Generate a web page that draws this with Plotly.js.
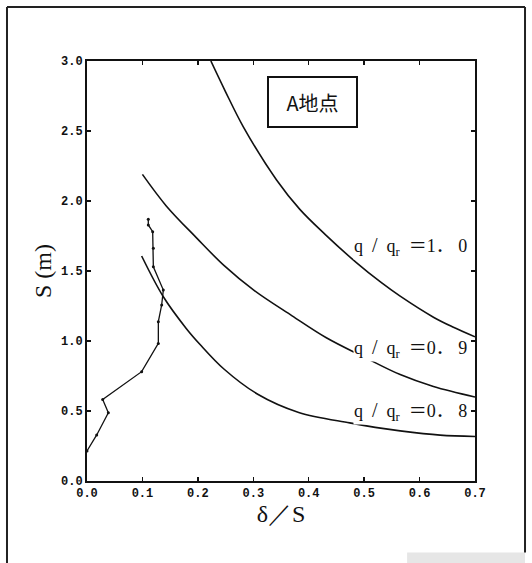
<!DOCTYPE html>
<html>
<head>
<meta charset="utf-8">
<script src="https://cdn.plot.ly/plotly-3.0.1.min.js"></script>
<style>html,body{margin:0;padding:0;background:#fff;}#chart{width:532px;height:563px;}</style>
</head>
<body>
<div id="chart"></div>
<script>
// q/qr = 1.0 curve
const c10_x = [0.2235, 0.25, 0.282, 0.342, 0.384, 0.43, 0.486, 0.53, 0.565, 0.625, 0.66, 0.70];
const c10_y = [3.00, 2.78, 2.53, 2.15, 1.94, 1.76, 1.56, 1.42, 1.32, 1.17, 1.10, 1.03];
// q/qr = 0.9 curve
const c09_x = [0.10, 0.143, 0.198, 0.247, 0.302, 0.37, 0.431, 0.50, 0.565, 0.625, 0.70];
const c09_y = [2.19, 1.965, 1.735, 1.54, 1.36, 1.18, 1.025, 0.885, 0.76, 0.675, 0.60];
// q/qr = 0.8 curve
const c08_x = [0.0986, 0.1377, 0.179, 0.204, 0.247, 0.308, 0.382, 0.474, 0.52, 0.565, 0.637, 0.70];
const c08_y = [1.607, 1.316, 1.09, 0.975, 0.80, 0.62, 0.49, 0.415, 0.383, 0.358, 0.328, 0.318];
// measured profile
const obs_x = [0.1106, 0.1106, 0.1185, 0.1197, 0.1197, 0.1377, 0.1347, 0.1287, 0.1287, 0.0986, 0.0283, 0.0385, 0.0175, 0.0];
const obs_y = [1.869, 1.829, 1.781, 1.662, 1.53, 1.364, 1.257, 1.138, 0.983, 0.781, 0.583, 0.488, 0.329, 0.215];

const xTicks = [0, 0.1, 0.2, 0.3, 0.4, 0.5, 0.6, 0.7];
const yTicks = [0, 0.5, 1.0, 1.5, 2.0, 2.5, 3.0];
const NB = '\u00a0';
const curveValues = ['1．' + NB + '0', '0．' + NB + '9', '0．' + NB + '8'];
const curveLabels = curveValues.map(v => 'q' + NB + NB + '<span style="font-size:20px">/</span>' + NB + NB + 'q<sub>r</sub>' + NB + NB + '＝' + v);
const curveLabelY = [1.674, 0.948, 0.495];
const siteLabel = "A地点";

const lineStyle = {color: '#111', width: 1.6};
const traces = [
  {x: c10_x, y: c10_y, mode: 'lines', line: Object.assign({shape: 'spline', smoothing: 1}, lineStyle), hoverinfo: 'skip'},
  {x: c09_x, y: c09_y, mode: 'lines', line: Object.assign({shape: 'spline', smoothing: 1}, lineStyle), hoverinfo: 'skip'},
  {x: c08_x, y: c08_y, mode: 'lines', line: Object.assign({shape: 'spline', smoothing: 1}, lineStyle), hoverinfo: 'skip'},
  {x: obs_x, y: obs_y, mode: 'lines+markers', line: {color: '#111', width: 1.3}, marker: {size: 3, color: '#111'}, hoverinfo: 'skip'}
];

const annotations = curveLabels.map((t, i) => ({
  x: 0.6874, y: curveLabelY[i], xref: 'x', yref: 'y', xanchor: 'right', yanchor: 'middle',
  text: t, showarrow: false, bgcolor: '#fff', borderpad: 0,
  font: {family: 'Liberation Serif, Noto Sans CJK JP, serif', size: 18, color: '#111'}
}));
annotations.push({
  x: 0.4068, y: 2.707, xref: 'x', yref: 'y', xanchor: 'center', yanchor: 'middle',
  text: siteLabel, showarrow: false, bgcolor: '#fff', bordercolor: '#111', borderwidth: 2,
  borderpad: 1, width: 85, height: 46,
  font: {family: 'Noto Sans CJK JP, sans-serif', size: 20, color: '#111'}
});

const axisCommon = {
  showgrid: false, zeroline: false, showline: true, linecolor: '#111', linewidth: 2,
  mirror: 'ticks', ticks: 'inside', ticklen: 4, tickcolor: '#111', tickwidth: 1.5,
  tickformat: '.1f', fixedrange: true,
  tickfont: {family: 'Liberation Mono, DejaVu Sans Mono, monospace', size: 12, color: '#111', weight: 'bold'}
};

const layout = {
  width: 532, height: 563,
  margin: {l: 87, r: 57, t: 61, b: 82},
  paper_bgcolor: '#fff', plot_bgcolor: '#fff',
  showlegend: false,
  xaxis: Object.assign({}, axisCommon, {
    range: [0, 0.7], tickvals: xTicks,
    title: {text: 'δ／S', standoff: 1, font: {family: 'Liberation Serif, serif', size: 24, color: '#111'}}
  }),
  yaxis: Object.assign({}, axisCommon, {
    range: [0, 3.0], tickvals: yTicks,
    title: {text: 'S (m)', standoff: 3, font: {family: 'Liberation Serif, serif', size: 24, color: '#111'}}
  }),
  annotations: annotations,
  shapes: [
    {type: 'line', xref: 'paper', yref: 'paper', x0: -0.2062, x1: -0.2062, y0: 1.1286, y1: -0.20, line: {color: '#222', width: 2}},
    {type: 'line', xref: 'paper', yref: 'paper', x0: -0.2062, x1: 1.1289, y0: 1.1286, y1: 1.1286, line: {color: '#222', width: 2}},
    {type: 'line', xref: 'paper', yref: 'paper', x0: 1.1289, x1: 1.1289, y0: 1.1286, y1: -0.17, line: {color: '#222', width: 2}},
    {type: 'rect', xref: 'paper', yref: 'paper', x0: 0.825, x1: 1.1289, y0: -0.17, y1: -0.20, fillcolor: '#e6e6e6', line: {width: 0}, layer: 'below'}
  ]
};

Plotly.newPlot('chart', traces, layout, {staticPlot: true, displayModeBar: false});
</script>
</body>
</html>
